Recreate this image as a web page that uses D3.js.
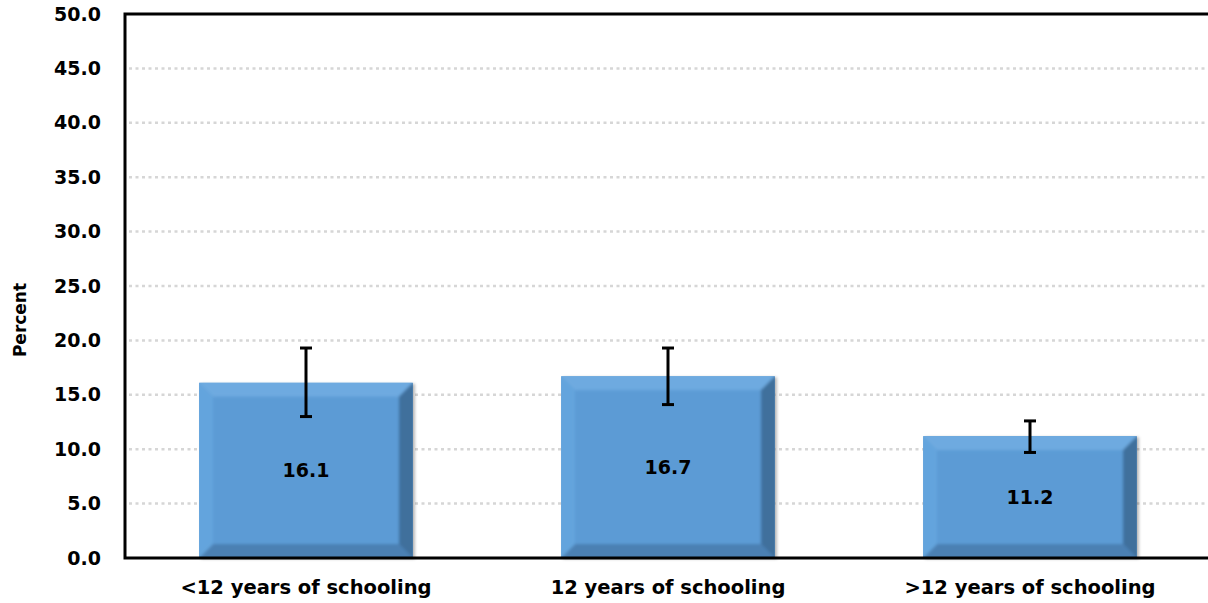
<!DOCTYPE html>
<html>
<head>
<meta charset="utf-8">
<script src="https://cdn.jsdelivr.net/npm/d3@7"></script>
<style>
  body { margin: 0; background: #fff; }
  text { font-family: "DejaVu Sans", sans-serif; font-weight: 700; fill: #000; }
</style>
</head>
<body>
<svg width="1208" height="603"></svg>
<script>
// data
var categories = ["<12 years of schooling", "12 years of schooling", ">12 years of schooling"];
var values = [16.1, 16.7, 11.2];
var ciLow = [13.0, 14.1, 9.7];
var ciHigh = [19.3, 19.3, 12.6];
var yTicks = [0, 5, 10, 15, 20, 25, 30, 35, 40, 45, 50];

var svg = d3.select("svg"),
    plotL = 125, plotT = 14, plotB = 558, plotR = 1211;

var x = d3.scaleBand()
    .domain(categories)
    .range([plotL, plotR])
    .paddingInner(0.41)
    .paddingOuter(0.205);

var y = d3.scaleLinear().domain([0, 50]).range([plotB, plotT]);

// grid
svg.append("g").selectAll("line")
    .data(yTicks.filter(function(d) { return d > 0 && d < 50; }))
    .enter().append("line")
    .attr("x1", plotL + 4).attr("x2", 1208)
    .attr("y1", function(d) { return y(d); })
    .attr("y2", function(d) { return y(d); })
    .attr("stroke", "#d6d6d6")
    .attr("stroke-width", 2.5)
    .attr("stroke-dasharray", "3,3.5");

var defs = svg.append("defs");
var f = defs.append("filter").attr("id", "shadow").attr("x", "-10%").attr("y", "-10%").attr("width", "130%").attr("height", "130%");
f.append("feDropShadow").attr("dx", 2).attr("dy", 1).attr("stdDeviation", 1.5).attr("flood-color", "#000").attr("flood-opacity", 0.3);
var blur = defs.append("filter").attr("id", "soft");
blur.append("feGaussianBlur").attr("stdDeviation", 1.5);

// bars with bevel
var bw = x.bandwidth(), bev = 14;
var bars = svg.append("g").selectAll("g")
    .data(values)
    .enter().append("g")
    .attr("transform", function(d, i) { return "translate(" + x(categories[i]) + ",0)"; });

bars.append("clipPath")
    .attr("id", function(d, i) { return "clip" + i; })
    .append("rect")
    .attr("x", 0).attr("y", function(d) { return y(d); })
    .attr("width", bw).attr("height", function(d) { return plotB - y(d); });

bars.append("rect")
    .attr("x", 0).attr("y", function(d) { return y(d); })
    .attr("width", bw).attr("height", function(d) { return plotB - y(d); })
    .attr("fill", "#5b9bd5")
    .attr("filter", "url(#shadow)");

var inner = bars.append("g")
    .attr("clip-path", function(d, i) { return "url(#clip" + i + ")"; })
    .append("g").attr("filter", "url(#soft)");

function facet(pts, color) {
    inner.append("polygon")
        .attr("points", function(d) {
            var t = y(d), b = plotB;
            return pts(t, b).map(function(p) { return p.join(","); }).join(" ");
        })
        .attr("fill", color);
}
facet(function(t, b) { return [[-4, t - 4], [bw + 4, t - 4], [bw - bev, t + bev], [bev, t + bev]]; }, "#6eaae0");
facet(function(t, b) { return [[-4, t - 4], [bev, t + bev], [bev, b - bev], [-4, b + 4]]; }, "#64a4dd");
facet(function(t, b) { return [[bw + 4, t - 4], [bw + 4, b + 4], [bw - bev, b - bev], [bw - bev, t + bev]]; }, "#3f6f9c");
facet(function(t, b) { return [[-4, b + 4], [bev, b - bev], [bw - bev, b - bev], [bw + 4, b + 4]]; }, "#4b80b3");
inner.append("rect")
    .attr("x", bev).attr("y", function(d) { return y(d) + bev; })
    .attr("width", bw - 2 * bev).attr("height", function(d) { return plotB - y(d) - 2 * bev; })
    .attr("fill", "#5b9bd5");

// value labels
bars.append("text")
    .attr("x", bw / 2)
    .attr("y", function(d) { return (y(d) + plotB) / 2; })
    .attr("dy", "0.35em")
    .attr("text-anchor", "middle")
    .style("font-size", "19px")
    .text(function(d) { return d.toFixed(1); });

// error bars
var eb = svg.append("g").selectAll("g")
    .data(values)
    .enter().append("g")
    .attr("stroke", "#000").attr("stroke-width", 3);
eb.append("line")
    .attr("x1", function(d, i) { return x(categories[i]) + bw / 2; })
    .attr("x2", function(d, i) { return x(categories[i]) + bw / 2; })
    .attr("y1", function(d, i) { return y(ciLow[i]); })
    .attr("y2", function(d, i) { return y(ciHigh[i]); });
[ciLow, ciHigh].forEach(function(arr) {
    eb.append("line")
        .attr("x1", function(d, i) { return x(categories[i]) + bw / 2 - 6; })
        .attr("x2", function(d, i) { return x(categories[i]) + bw / 2 + 6; })
        .attr("y1", function(d, i) { return y(arr[i]); })
        .attr("y2", function(d, i) { return y(arr[i]); });
});

// axes
svg.append("g")
    .attr("transform", "translate(0," + plotB + ")")
    .call(d3.axisBottom(x).tickSize(0).tickPadding(22))
    .call(function(g) { g.select(".domain").remove(); })
    .selectAll("text").style("font-size", "19.5px").style("font-family", "DejaVu Sans, sans-serif");

svg.append("g")
    .attr("transform", "translate(" + plotL + ",0)")
    .call(d3.axisLeft(y).tickValues(yTicks).tickSize(0).tickPadding(24).tickFormat(d3.format(".1f")))
    .call(function(g) { g.select(".domain").remove(); })
    .selectAll("text").style("font-size", "19px").style("font-family", "DejaVu Sans, sans-serif");

svg.append("path")
    .attr("d", "M1208," + plotT + "H" + plotL + "V" + plotB + "H1208")
    .attr("fill", "none").attr("stroke", "#000").attr("stroke-width", 3);

svg.append("text")
    .attr("transform", "translate(26,320) rotate(-90)")
    .attr("text-anchor", "middle")
    .style("font-size", "17px")
    .text("Percent");
</script>
</body>
</html>
